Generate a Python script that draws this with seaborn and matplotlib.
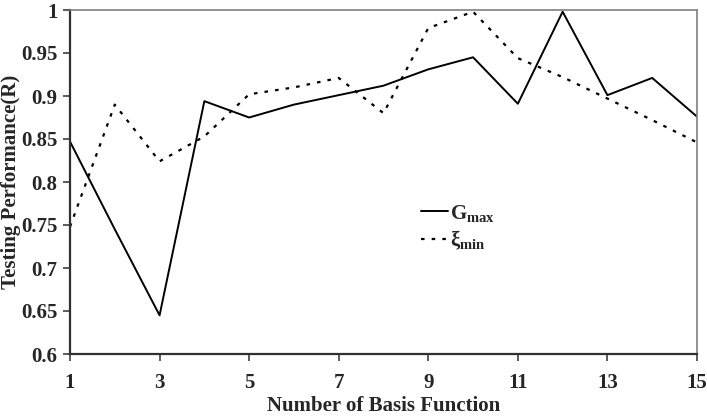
import matplotlib
matplotlib.use('Agg')
import matplotlib.pyplot as plt
import pandas as pd
import seaborn as sns

# values
basis_functions = list(range(1, 16))
g_max = [0.847, 0.745, 0.645, 0.894, 0.875, 0.890, 0.901, 0.912, 0.931, 0.945,
         0.891, 0.998, 0.901, 0.921, 0.876]
xi_min = [0.748, 0.890, 0.824, 0.853, 0.902, 0.910, 0.921, 0.880, 0.979, 0.998,
          0.944, 0.922, 0.897, 0.872, 0.846]
x_ticks = [1, 3, 5, 7, 9, 11, 13, 15]
y_ticks = [0.6, 0.65, 0.7, 0.75, 0.8, 0.85, 0.9, 0.95, 1.0]

sns.set_style('ticks')
plt.rcParams['font.family'] = ['Liberation Serif', 'DejaVu Serif']
plt.rcParams['font.weight'] = 'bold'
plt.rcParams['mathtext.fontset'] = 'custom'
plt.rcParams['mathtext.rm'] = 'Liberation Serif:bold'
plt.rcParams['mathtext.bf'] = 'Liberation Serif:bold'
plt.rcParams['mathtext.it'] = 'Liberation Serif:bold'

df = pd.DataFrame({'x': basis_functions, 'G': g_max, 'xi': xi_min})

fig = plt.figure(figsize=(7.07, 4.18), dpi=100)
ax = fig.add_axes([70 / 707, 1 - 354 / 418, 627 / 707, 344 / 418])

sns.lineplot(data=df, x='x', y='G', ax=ax, color='black', linewidth=1.4,
             label=r'$\mathbf{G_{max}}$')
sns.lineplot(data=df, x='x', y='xi', ax=ax, color='black', linewidth=1.6,
             label=r'$\mathbf{ξ_{min}}$')
ax.lines[1].set_dashes((1.6, 3.2))

ax.set_xlim(1, 15)
ax.set_ylim(0.6, 1.0)
ax.set_xticks(x_ticks)
ax.set_yticks(y_ticks)
ax.set_yticklabels(['0.6', '0.65', '0.7', '0.75', '0.8', '0.85', '0.9', '0.95', '1'])
ax.tick_params(axis='both', labelsize=15, length=5, width=1.2, color='#404040')
ax.tick_params(axis='x', pad=9)
ax.tick_params(axis='y', pad=4)
for lab in ax.get_xticklabels() + ax.get_yticklabels():
    lab.set_fontweight('bold')

ax.set_xlabel('Number of Basis Function', fontsize=15, fontweight='bold', labelpad=2)
ax.set_ylabel('Testing Performance(R)', fontsize=15, fontweight='bold', labelpad=0)

for side in ['left', 'bottom']:
    ax.spines[side].set_color('#303030')
    ax.spines[side].set_linewidth(1.6)
for side in ['top', 'right']:
    ax.spines[side].set_color('#808080')
    ax.spines[side].set_linewidth(1.2)

leg = ax.legend(loc='upper left', bbox_to_anchor=(0.56, 0.44), frameon=False,
                fontsize=15, handlelength=1.3, handletextpad=0.1,
                borderpad=0, borderaxespad=0, labelspacing=0.25)

fig.savefig('out.png', dpi=100)
